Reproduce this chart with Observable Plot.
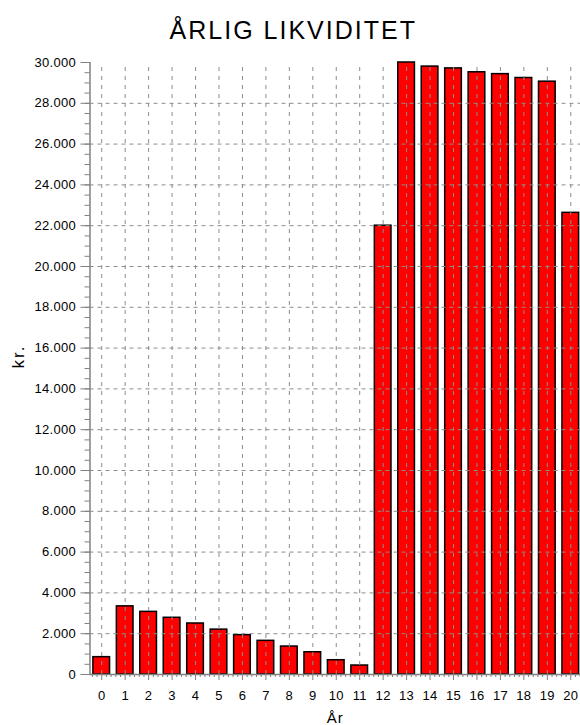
<!DOCTYPE html>
<html>
<head>
<meta charset="utf-8">
<script src="https://cdn.jsdelivr.net/npm/d3@7"></script>
<script src="https://cdn.jsdelivr.net/npm/@observablehq/plot@0.6"></script>
<style>
  html, body { margin: 0; padding: 0; background: white; }
  #chart { width: 580px; height: 725px; overflow: hidden; }
</style>
</head>
<body>
<div id="chart"></div>
<script>
const title = "ÅRLIG LIKVIDITET";
const yLabel = "kr.";
const xLabel = "År";
const years = [0, 1, 2, 3, 4, 5, 6, 7, 8, 9, 10, 11, 12, 13, 14, 15, 16, 17, 18, 19, 20];
const values = [850, 3340, 3070, 2780, 2500, 2200, 1930, 1650, 1370, 1090, 700, 440,
                22000, 30000, 29800, 29710, 29520, 29430, 29240, 29060, 22630];
const yTicks = [0, 2000, 4000, 6000, 8000, 10000, 12000, 14000, 16000, 18000, 20000,
                22000, 24000, 26000, 28000, 30000];

const data = years.map((year, i) => ({year, value: values[i]}));
const yMax = yTicks[yTicks.length - 1];
const gridY = yTicks.filter(v => v > 0 && v < yMax);
const minorY = d3.range(0, yMax + 1, 500);
const minorX = [];
years.forEach(y => [-0.4, -0.2, 0.2, 0.4].forEach(o => minorX.push(y + o)));
const fmt = d => d === 0 ? "0" : d3.format(",")(d).replace(/,/g, ".");
const gridColor = "#8c8c8c";
const axisColor = "#808080";

const chart = Plot.plot({
  width: 580,
  height: 725,
  marginLeft: 89.5,
  marginRight: -2,
  marginTop: 62,
  marginBottom: 51,
  style: {fontFamily: "'Liberation Sans', Arial, sans-serif", fontSize: "13px", background: "white", color: "black"},
  x: {type: "linear", domain: [years[0] - 0.5, years[years.length - 1] + 0.5]},
  y: {domain: [0, yMax]},
  marks: [
    Plot.rectY(data, {x1: d => d.year - 0.5, x2: d => d.year + 0.5, y: "value",
      insetLeft: 3.4, insetRight: 3.4, fill: "#ff0000", stroke: "#000", strokeWidth: 1.5}),
    Plot.ruleY(gridY, {stroke: gridColor, strokeDasharray: "4,4", strokeWidth: 1}),
    Plot.ruleX(years, {y1: 0, y2: yMax, stroke: gridColor, strokeDasharray: "4,5", strokeWidth: 1}),
    Plot.ruleX([years[0] - 0.5], {y1: 0, y2: yMax, stroke: axisColor, strokeWidth: 1.5}),
    Plot.ruleY([0], {stroke: axisColor, strokeWidth: 1.5}),
    Plot.axisY({ticks: yTicks, tickSize: 9, tickPadding: 5, tickFormat: fmt, label: null,
      stroke: axisColor, fill: "black", fontSize: 13}),
    Plot.axisY({ticks: minorY, tickSize: 5, text: null, label: null, stroke: axisColor}),
    Plot.axisX({ticks: years, tickSize: 6, tickPadding: 10, tickFormat: d => String(d), label: null,
      stroke: axisColor, fill: "black", fontSize: 13}),
    Plot.axisX({ticks: minorX, tickSize: 3, text: null, label: null, stroke: axisColor}),
    Plot.text([title], {frameAnchor: "top", dx: -43, dy: -24, lineAnchor: "bottom",
      fontSize: 25, fill: "black"}),
    Plot.text([yLabel], {frameAnchor: "left", dx: -71, rotate: -90, fontSize: 17, fill: "black"}),
    Plot.text([xLabel], {frameAnchor: "bottom", dx: -1, dy: 48, lineAnchor: "bottom", fontSize: 15, fill: "black"})
  ]
});

d3.select(chart).selectAll("text").each(function() {
  const t = this.textContent;
  if (t === title) d3.select(this).attr("letter-spacing", 2);
  if (t === yLabel) d3.select(this).attr("letter-spacing", 2);
  if (t === xLabel) d3.select(this).attr("letter-spacing", 1);
});
d3.select(chart).selectAll("g[aria-label='y-axis tick label'] text, g[aria-label='x-axis tick label'] text")
  .attr("letter-spacing", 0.3);

document.getElementById("chart").appendChild(chart);
</script>
</body>
</html>
